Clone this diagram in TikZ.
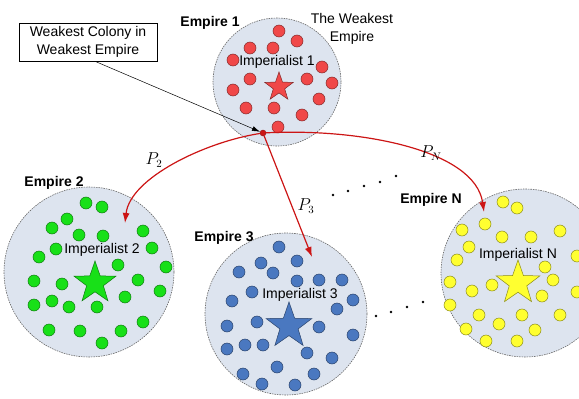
\documentclass[tikz,border=0pt]{standalone}
\usepackage{fontspec}
\setmainfont{Liberation Sans}
\usepackage{xcolor}
\usetikzlibrary{
	positioning,    % relative placement
	arrows.meta,    % Latex tips
	shapes.geometric % star shape
}
\definecolor{empirefill}{HTML}{DDE4EF}
\definecolor{colred}{HTML}{F04848}
\definecolor{colgreen}{HTML}{18E018}
\definecolor{colblue}{HTML}{4A78C0}
\definecolor{colyellow}{HTML}{FFFF30}
\definecolor{movered}{HTML}{CC1515}

\begin{document}
\begin{tikzpicture}[
	x=1pt, y=-1pt,
	empire/.style={circle, draw=gray!80!black, dash pattern=on 1.5pt off 1pt, fill=empirefill, line width=0.6pt, inner sep=0pt},
	colony/.style={circle, draw=#1!55!black, fill=#1, minimum size=12pt, inner sep=0pt, line width=0.5pt},
	imperialist/.style={star, star points=5, star point ratio=2.5, draw=#1!55!black, fill=#1, inner sep=0pt, line width=0.5pt},
	empire_label/.style={font=\fontsize{14}{16}\selectfont\bfseries},
	label_text/.style={font=\fontsize{14}{16}\selectfont},
	move/.style={-{Latex[length=10pt,width=7pt]}, line width=1.2pt, draw=movered},
	pointer/.style={-{Latex[length=8pt,width=5pt]}, line width=0.5pt}
	]
	
	\clip (0,0) rectangle (579,399);
	
	% --- Imperi (cerchi) ---
	\node[empire, minimum size=128pt] (e1) at (277,82) {};
	\node[empire, minimum size=170pt] (e2) at (89,272) {};
	\node[empire, minimum size=162pt] (e3) at (286,314) {};
	\node[empire, minimum size=168pt] (eN) at (525,273) {};
	
	% --- Colonie ---
	\foreach \p in {(279,31),(297,41),(250,48),(273,48),(233,60),(322,67),(250,79),(307,79),
		(332,83),(233,90),(319,99),(246,108),(274,108),(302,115),(278,127)}
	\node[colony=colred] at \p {};
	
	\foreach \p in {(86,203),(102,207),(52,228),(67,219),(79,235),(103,236),(143,231),(56,249),
		(152,248),(39,257),(118,265),(166,267),(34,281),(62,284),(138,280),(160,291),(52,301),
		(34,305),(69,307),(97,307),(125,297),(143,322),(49,330),(80,331),(121,331),(102,343)}
	\node[colony=colgreen] at \p {};
	
	\foreach \p in {(279,247),(261,263),(297,261),(239,272),(273,273),(297,281),(319,280),(342,280),
		(252,292),(353,300),(232,301),(337,309),(257,322),(319,327),(227,326),(245,345),(263,345),
		(227,349),(353,335),(307,353),(332,358),(277,367),(243,374),(314,374),(262,384),(295,385)}
	\node[colony=colblue] at \p {};
	
	\foreach \p in {(503,202),(517,208),(485,224),(462,230),(502,237),(531,237),(560,231),(469,247),
		(457,260),(545,267),(577,256),(450,282),(492,285),(553,280),(472,291),(542,296),(577,292),
		(450,305),(479,315),(522,315),(560,315),(499,324),(466,329),(535,330),(486,341),(517,341)}
	\node[colony=colyellow] at \p {};
	
	% --- Imperialisti (stelle) ---
	\node[imperialist=colred, minimum size=30pt] (s1) at (279,87) {};
	\node[imperialist=colgreen, minimum size=44pt] (s2) at (95,283) {};
	\node[imperialist=colblue, minimum size=48pt] (s3) at (289,326) {};
	\node[imperialist=colyellow, minimum size=46pt] (sN) at (518,283) {};
	
	% --- Etichette ---
	\node[label_text] (i1) at (277,62) {Imperialist 1};
	\node[label_text] (i2) at (102,250) {Imperialist 2};
	\node[label_text] (i3) at (300,295) {Imperialist 3};
	\node[label_text] (iN) at (518,255) {Imperialist N};
	
	\node[empire_label] (l1) at (210,23) {Empire 1};
	\node[empire_label] (l2) at (54,183) {Empire 2};
	\node[empire_label] (l3) at (224,238) {Empire 3};
	\node[empire_label] (lN) at (431,200) {Empire N};
	
	\node[label_text, align=center, font=\fontsize{14}{18}\selectfont] (weak) at (352,29) {The Weakest\\Empire};
	
	\node[draw, label_text, align=center, font=\fontsize{14}{18}\selectfont, minimum width=138pt, minimum height=38pt, inner sep=0pt, line width=0.6pt] (note) at (88,42) {Weakest Colony in\\Weakest Empire};
	
	% --- Colonia piu' debole e movimenti ---
	\node[circle, fill=movered, draw=movered!70!black, minimum size=6pt, inner sep=0pt] (wc) at (263,133) {};
	\coordinate (t2) at (125,223);
	\coordinate (t3) at (312,257);
	\coordinate (tN) at (484,212);
	
	\draw[pointer] ([xshift=7pt]note.south) -- (wc);
	\draw[move] (wc) .. controls (205,142) and (130,178) .. (t2);
	\draw[move] (wc) -- (t3);
	\draw[move] (wc) .. controls (360,128) and (475,150) .. (tN);
	
	\node[font=\fontsize{16}{18}\selectfont] (p2) at (154,160) {$P_2$};
	\node[font=\fontsize{16}{18}\selectfont] (p3) at (306,206) {$P_3$};
	\node[font=\fontsize{16}{18}\selectfont] (pN) at (431,153) {$P_N$};
	
	% --- Puntini ---
	\foreach \p in {(333,195),(348,191),(364,186),(380,182),(396,176),(376,316),(391,312),(407,307),(423,302)}
	\fill \p circle (1.3);
\end{tikzpicture}
\end{document}
